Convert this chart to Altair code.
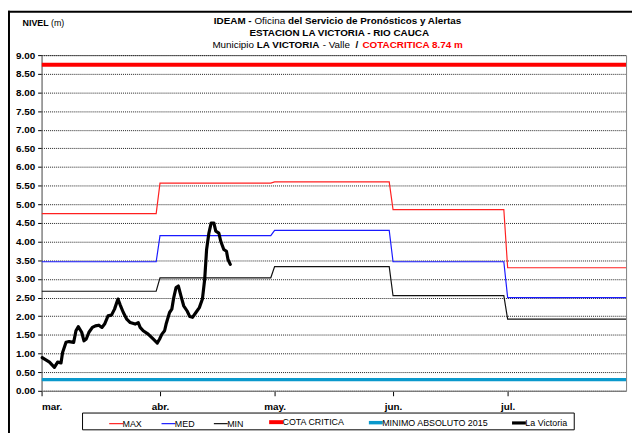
import altair as alt
import pandas as pd

# ---------------- data ----------------
series_order = ["MAX", "MED", "MIN", "COTA CRITICA", "MINIMO ABSOLUTO 2015", "La Victoria"]
series_colors = ["#ff2020", "#1a1aff", "#111111", "#ff0000", "#0a99cc", "#000000"]
series_widths = [1.2, 1.2, 1.2, 4, 3.5, 3.2]

step_dates = ["2016-03-01", "2016-03-31", "2016-04-01", "2016-04-30", "2016-05-01",
              "2016-05-31", "2016-06-01", "2016-06-30", "2016-07-01", "2016-08-01"]
max_vals = [4.75, 4.75, 5.57, 5.57, 5.60, 5.60, 4.86, 4.86, 3.30, 3.30]
med_vals = [3.46, 3.46, 4.16, 4.16, 4.30, 4.30, 3.46, 3.46, 2.50, 2.50]
min_vals = [2.67, 2.67, 3.03, 3.03, 3.33, 3.33, 2.55, 2.55, 1.92, 1.92]

ref_dates = ["2016-03-01", "2016-08-01"]
cota_vals = [8.74, 8.74]
minimo_vals = [0.30, 0.30]

# La Victoria observed level: days after 1 March, level (m)
lv_days = [0.17, 2.07, 3.36, 4.2, 5.1, 5.5, 6.4, 7.2, 8.4, 9.0, 9.6, 10.5, 11.1, 11.7,
           12.4, 13.3, 14.1, 15.0, 15.8, 16.5, 17.4, 18.3, 19.1, 20.0, 20.6, 21.4,
           22.3, 23.2, 24.5, 25.3, 25.8, 26.6, 27.9, 29.2, 30.3, 30.9, 31.5, 32.2,
           32.6, 33.5, 34.1, 34.6, 35.2, 35.8, 36.5, 37.2, 38.1, 38.8, 39.5, 40.4,
           41.3, 42.1, 42.7, 43.2, 43.8, 44.4, 45.1, 45.6, 46.4, 46.9, 47.7, 48.4,
           48.8, 49.4]
lv_vals = [0.89, 0.77, 0.63, 0.77, 0.75, 1.03, 1.30, 1.32, 1.30, 1.61, 1.72, 1.57, 1.34,
           1.39, 1.57, 1.70, 1.74, 1.76, 1.70, 1.79, 2.01, 2.03, 2.19, 2.46, 2.30, 2.10,
           1.92, 1.83, 1.79, 1.83, 1.70, 1.61, 1.52, 1.39, 1.28, 1.39, 1.52, 1.61, 1.79,
           2.10, 2.19, 2.50, 2.77, 2.81, 2.54, 2.28, 2.14, 1.99, 1.97, 2.10, 2.23, 2.46,
           2.99, 3.79, 4.23, 4.50, 4.50, 4.28, 4.23, 4.01, 3.79, 3.74, 3.52, 3.39]

month_labels = ["ene.", "feb.", "mar.", "abr.", "may.", "jun.", "jul.", "ago.",
                "sep.", "oct.", "nov.", "dic."]
y_ticks = [i * 0.5 for i in range(19)]

# ---------------- tables ----------------
width_of = dict(zip(series_order, series_widths))
frames = []
for name, vals in [("MAX", max_vals), ("MED", med_vals), ("MIN", min_vals)]:
    frames.append(pd.DataFrame({"serie": name, "fecha": pd.to_datetime(step_dates), "nivel": vals}))
frames.append(pd.DataFrame({"serie": "COTA CRITICA", "fecha": pd.to_datetime(ref_dates), "nivel": cota_vals}))
frames.append(pd.DataFrame({"serie": "MINIMO ABSOLUTO 2015", "fecha": pd.to_datetime(ref_dates), "nivel": minimo_vals}))
ref_df = pd.concat(frames, ignore_index=True)
ref_df["grosor"] = ref_df["serie"].map(width_of)

lv_df = pd.DataFrame({
    "serie": "La Victoria",
    "fecha": pd.Timestamp("2016-03-01") + pd.to_timedelta(lv_days, unit="D"),
    "nivel": lv_vals,
})
lv_df["grosor"] = lv_df["serie"].map(width_of)

W, H = 592, 340
SANS = "Liberation Sans, Arial"

idx = "indexof(%s, datum.value)" % str(series_order)
sw_expr = "datum ? (%s < 0 ? 2 : %s[%s]) : 4" % (idx, str(series_widths), idx)

legend_cfg = alt.Legend(
    orient="none", legendX=71, legendY=367, direction="horizontal", columns=6,
    columnPadding=17, symbolType="stroke", symbolSize=196,
    symbolStrokeWidth=alt.ExprRef(expr=sw_expr), labelFont=SANS,
    labelFontSize=9, labelOffset=2, title=None, padding=0, labelColor="#000",
)

x_enc = alt.X(
    "fecha:T",
    scale=alt.Scale(domain=[alt.DateTime(year=2016, month=3, date=1),
                            alt.DateTime(year=2016, month=8, date=1)], nice=False),
    axis=alt.Axis(
        values=[alt.DateTime(year=2016, month=m, date=1) for m in range(3, 8)],
        labelExpr="%s[month(datum.value)]" % str(month_labels),
        grid=False, tickSize=5, tickColor="#000", domainColor="#808080",
        labelFont=SANS, labelFontWeight="bold", labelFontSize=10, labelColor="#000",
        labelPadding=6, title=None,
    ),
)
y_enc = alt.Y(
    "nivel:Q",
    scale=alt.Scale(domain=[0, 9], nice=False),
    axis=alt.Axis(
        values=y_ticks, format=".2f", grid=True, gridDash=[1, 1], gridColor="#222",
        gridWidth=1, tickSize=4, tickColor="#000", domainColor="#808080",
        labelFont=SANS, labelFontWeight="bold", labelFontSize=10, labelColor="#000",
        labelPadding=3, title=None,
    ),
)
color_enc = alt.Color("serie:N", scale=alt.Scale(domain=series_order, range=series_colors),
                      legend=legend_cfg)
sw_enc = alt.StrokeWidth("grosor:Q", scale=None, legend=None)

ref_lines = alt.Chart(ref_df).mark_line(clip=True).encode(
    x=x_enc, y=y_enc, color=color_enc, strokeWidth=sw_enc, detail="serie:N"
)
lv_line = alt.Chart(lv_df).mark_line(strokeJoin="round", strokeCap="round").encode(
    x=x_enc, y=y_enc, color=color_enc, strokeWidth=sw_enc, detail="serie:N"
)

one = pd.DataFrame({"a": [0]})


def txt(s, x, y, bold=True, color="#000", size=10):
    return alt.Chart(one).mark_text(
        align="left", baseline="middle", fontSize=size, font=SANS,
        fontWeight="bold" if bold else "normal", color=color,
    ).encode(x=alt.value(x), y=alt.value(y), text=alt.value(s))


texts = [
    txt("IDEAM -", 174.5, -35),
    txt("Oficina", 215.6, -35, bold=False),
    txt("del Servicio de Pronósticos y Alertas", 249.5, -35),
    txt("ESTACION LA VICTORIA - RIO CAUCA", 210.5, -22.5),
    txt("Municipio", 173, -10, bold=False),
    txt("LA VICTORIA", 218, -10),
    txt("- Valle", 284.7, -10, bold=False),
    txt("/", 318, -10),
    txt("COTACRITICA 8.74 m", 325, -10, color="#ff0000"),
    txt("NIVEL", -19.3, -32, size=9),
    txt("(m)", 9.5, -32, bold=False, size=9),
]

legend_box = alt.Chart(one).mark_rect(fill="white", stroke="#000", strokeWidth=1).encode(
    x=alt.value(41.5), x2=alt.value(539.5), y=alt.value(362.5), y2=alt.value(379.5)
)
frame_top = alt.Chart(one).mark_rule(color="#000", strokeWidth=2).encode(
    x=alt.value(-34), x2=alt.value(600), y=alt.value(-44)
)
frame_left = alt.Chart(one).mark_rule(color="#000", strokeWidth=2).encode(
    x=alt.value(-33), y=alt.value(-45), y2=alt.value(385)
)

chart = alt.layer(
    legend_box, ref_lines, lv_line, frame_top, frame_left, *texts
).resolve_scale(color="shared").properties(
    width=W, height=H,
    autosize=alt.AutoSizeParams(type="none"),
    padding={"left": 34, "top": 45, "right": 6, "bottom": 40},
    background="white",
).configure_view(stroke="#808080", strokeWidth=1)

chart.save("out.html", embed_options={"renderer": "svg", "actions": False})
